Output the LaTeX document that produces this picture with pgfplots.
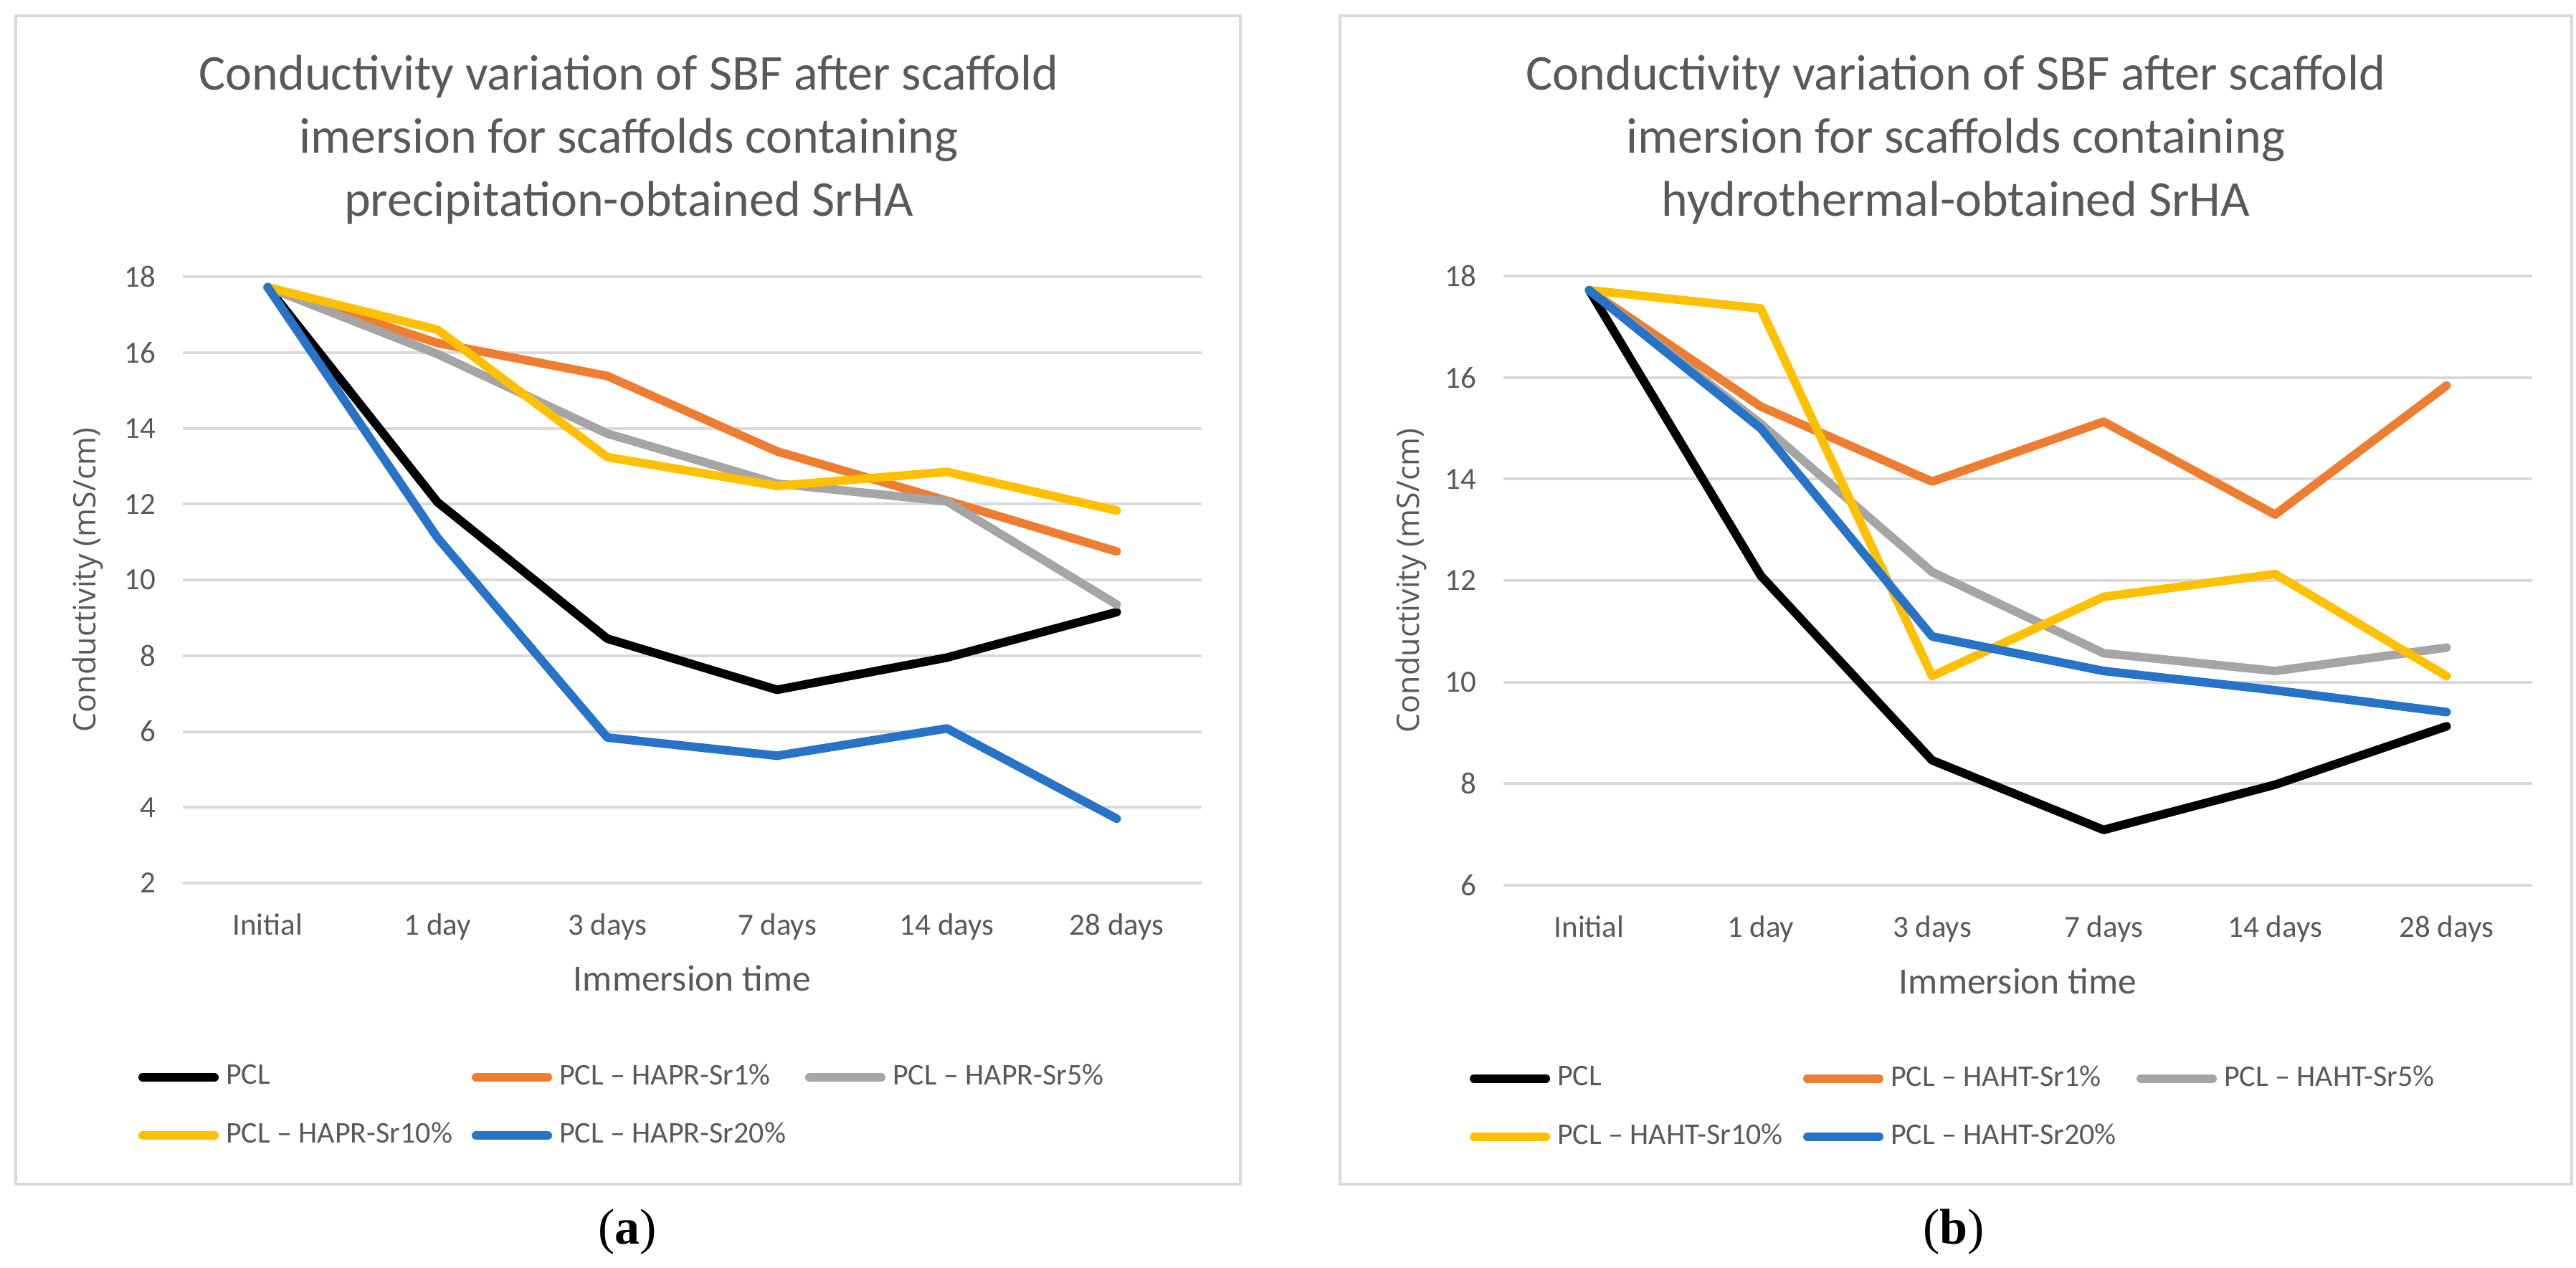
\documentclass[border=0pt]{standalone}
\usepackage{pgfplots}
\pgfplotsset{compat=1.18}
\usepackage{fontspec}
\setmainfont{Carlito}
\newfontfamily\yfont{Open Sans}
\newfontfamily\capfont{Liberation Serif}
\definecolor{txt}{HTML}{595959}
\definecolor{gridc}{HTML}{D9D9D9}
\definecolor{boxc}{HTML}{D9D9D9}
\definecolor{cO}{HTML}{ED7D31}
\definecolor{cG}{HTML}{A5A5A5}
\definecolor{cY}{HTML}{FFC000}
\definecolor{cB}{HTML}{2673C8}
\pgfplotsset{
  panel/.style={
    scale only axis,
    xmin=-0.5, xmax=5.5,
    xtick={0,1,2,3,4,5},
    xticklabels={Initial,1 day,3 days,7 days,14 days,28 days},
    axis line style={draw=none},
    major tick length=0pt,
    xmajorgrids=false,
    ymajorgrids=true,
    major grid style={draw=gridc, line width=0.8pt},
    tick label style={font=\fontsize{8.6}{10}\selectfont, text=txt},
    /pgf/number format/assume math mode=true,
    xticklabel style={yshift=-5pt},
    yticklabel style={xshift=-4pt},
    xlabel={Immersion time},
    xlabel style={font=\fontsize{10.3}{12}\selectfont, text=txt, at={(axis description cs:0.5,-0.157)}, anchor=center},
    ylabel={Conductivity (mS/cm)},
    ylabel style={font=\yfont\fontsize{8.6}{10}\selectfont, text=txt, anchor=center},
    legend columns=3,
    legend cell align=left,
    legend style={draw=none, fill=none, inner sep=0pt, font=\fontsize{8.4}{11}\selectfont, text=txt,
      /tikz/every even column/.append style={column sep=1.6pt},
      row sep=5pt, anchor=north west},
    legend image code/.code={\draw[#1, line width=2.4pt, line cap=round] (0pt,0pt) -- (20pt,0pt);},
    every axis plot/.append style={line width=2.4pt, line join=round, line cap=round, mark=none},
  }
}
\newcommand{\lgd}[1]{\makebox[65pt][l]{#1}}
\begin{document}
\begin{tikzpicture}
\path[use as bounding box] (0,0) rectangle (718.6pt,353.8pt);
\draw[boxc, line width=0.8pt] (4.4pt,23.4pt) rectangle (346pt,349.4pt);
\draw[boxc, line width=0.8pt] (373.8pt,23.4pt) rectangle (717.4pt,349.4pt);
\node[text=txt, font=\fontsize{14}{17.6}\selectfont, align=center] at (175.4pt,314.8pt)
  {Conductivity variation of SBF after scaffold\\imersion for scaffolds containing\\precipitation-obtained SrHA};
\node[text=txt, font=\fontsize{14}{17.6}\selectfont, align=center] at (545.6pt,314.8pt)
  {Conductivity variation of SBF after scaffold\\imersion for scaffolds containing\\hydrothermal-obtained SrHA};
\node[font=\capfont\fontsize{14}{16}\selectfont] at (175pt,10pt) {(\textbf{a})};
\node[font=\capfont\fontsize{14}{16}\selectfont] at (545pt,10pt) {(\textbf{b})};

\begin{axis}[panel, width=284.2pt, height=169.2pt, at={(51pt,107.4pt)}, anchor=south west,
  ymin=2, ymax=18, ytick={2,4,...,18},
  ylabel style={at={(axis description cs:-0.0936,0.5)}},
  legend style={at={(axis description cs:-0.0443,-0.286)}}]
\addplot[black] coordinates {(0,17.72) (1,12.05) (2,8.45) (3,7.1) (4,7.95) (5,9.15)};
\addplot[cO] coordinates {(0,17.72) (1,16.25) (2,15.38) (3,13.39) (4,12.09) (5,10.75)};
\addplot[cG] coordinates {(0,17.72) (1,15.96) (2,13.86) (3,12.54) (4,12.07) (5,9.35)};
\addplot[cY] coordinates {(0,17.72) (1,16.6) (2,13.24) (3,12.48) (4,12.85) (5,11.83)};
\addplot[cB] coordinates {(0,17.72) (1,11.11) (2,5.84) (3,5.36) (4,6.08) (5,3.7)};
\addlegendentry{\lgd{PCL}}
\addlegendentry{\lgd{PCL – HAPR-Sr1\%}}
\addlegendentry{\lgd{PCL – HAPR-Sr5\%}}
\addlegendentry{\lgd{PCL – HAPR-Sr10\%}}
\addlegendentry{\lgd{PCL – HAPR-Sr20\%}}
\end{axis}

\begin{axis}[panel, width=287pt, height=170pt, at={(419.4pt,106.8pt)}, anchor=south west,
  ymin=6, ymax=18, ytick={6,8,...,18},
  ylabel style={at={(axis description cs:-0.09,0.5)}},
  legend style={at={(axis description cs:-0.0334,-0.283)}}]
\addplot[black] coordinates {(0,17.72) (1,12.1) (2,8.46) (3,7.09) (4,7.98) (5,9.13)};
\addplot[cO] coordinates {(0,17.72) (1,15.43) (2,13.95) (3,15.13) (4,13.3) (5,15.84)};
\addplot[cG] coordinates {(0,17.72) (1,15.09) (2,12.17) (3,10.57) (4,10.22) (5,10.68)};
\addplot[cY] coordinates {(0,17.72) (1,17.36) (2,10.12) (3,11.68) (4,12.13) (5,10.12)};
\addplot[cB] coordinates {(0,17.72) (1,15.0) (2,10.9) (3,10.22) (4,9.84) (5,9.41)};
\addlegendentry{\lgd{PCL}}
\addlegendentry{\lgd{PCL – HAHT-Sr1\%}}
\addlegendentry{\lgd{PCL – HAHT-Sr5\%}}
\addlegendentry{\lgd{PCL – HAHT-Sr10\%}}
\addlegendentry{\lgd{PCL – HAHT-Sr20\%}}
\end{axis}
\end{tikzpicture}
\end{document}
